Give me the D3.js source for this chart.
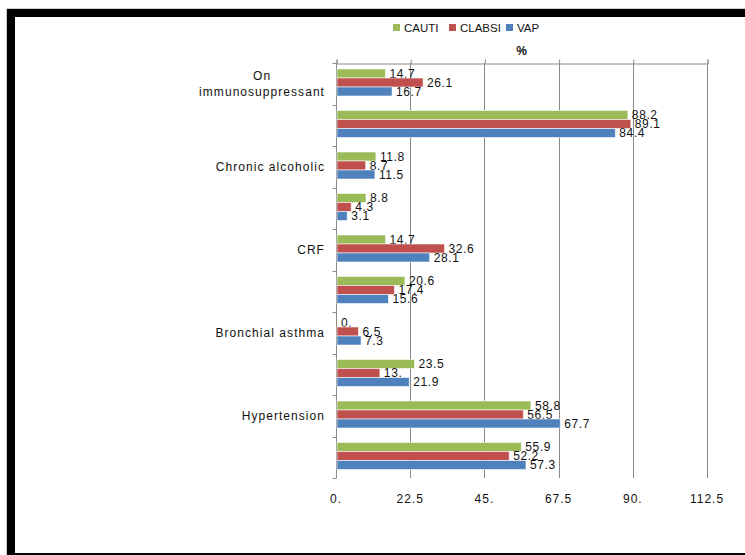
<!DOCTYPE html>
<html>
<head>
<meta charset="utf-8">
<script src="https://cdn.jsdelivr.net/npm/d3@7"></script>
<style>
  html, body { margin: 0; padding: 0; background: #fff; }
  svg { display: block; }
  text { font-family: "Liberation Sans", Arial, sans-serif; fill: #111; }
</style>
</head>
<body>
<script>
// Rows from top to bottom; only every other row carries a drawn label
const categories = [
  "On\nimmunosuppressant", "", "Chronic alcoholic", "", "CRF",
  "", "Bronchial asthma", "", "Hypertension", ""
];
const seriesNames = ["CAUTI", "CLABSI", "VAP"];
const seriesColors = ["#9BBB59", "#C0504D", "#4F81BD"];
const cauti  = [14.7, 88.2, 11.8, 8.8, 14.7, 20.6, 0, 23.5, 58.8, 55.9];
const clabsi = [26.1, 89.1, 8.7, 4.3, 32.6, 17.4, 6.5, 13, 56.5, 52.2];
const vap    = [16.7, 84.4, 11.5, 3.1, 28.1, 15.6, 7.3, 21.9, 67.7, 57.3];
const tickValues = [0, 22.5, 45, 67.5, 90, 112.5];
const axisTitle = "%";

const seriesValues = [cauti, clabsi, vap];
const fmt = v => Number.isInteger(v) ? v + "." : String(v);

const W = 745, H = 555;
const svg = d3.select("body").append("svg").attr("width", W).attr("height", H);

// Frame
svg.append("rect").attr("x", 0).attr("y", 0).attr("width", W).attr("height", H).attr("fill", "#fff");
svg.append("line").attr("x1", 6).attr("x2", W).attr("y1", 8.5).attr("y2", 8.5).attr("stroke", "#ccc");
svg.append("line").attr("x1", 6.5).attr("x2", 6.5).attr("y1", 8).attr("y2", H).attr("stroke", "#ccc");
svg.append("rect").attr("x", 7).attr("y", 9).attr("width", W - 7).attr("height", 8).attr("fill", "#000");
svg.append("rect").attr("x", 7).attr("y", 9).attr("width", 8).attr("height", H - 9).attr("fill", "#000");
svg.append("rect").attr("x", 7).attr("y", 553).attr("width", W - 7).attr("height", 2).attr("fill", "#000");

const plot = { left: 336, right: 707, top: 63, bottom: 478 };

const x = d3.scaleLinear().domain([0, 112.5]).range([plot.left, plot.right]);
const y = d3.scaleBand().domain(d3.range(categories.length)).range([plot.top, plot.bottom]);
const ySub = d3.scaleBand().domain(seriesNames).range([6, 33]);

// Vertical gridlines
svg.append("g").selectAll("line").data(tickValues.slice(1)).join("line")
  .attr("x1", d => Math.round(x(d)) + 0.5).attr("x2", d => Math.round(x(d)) + 0.5)
  .attr("y1", plot.top).attr("y2", plot.bottom)
  .attr("stroke", "#8a8a8a").attr("stroke-width", 1);

// Top value axis (ticks only, labels drawn at the bottom)
const topAxis = svg.append("g").attr("transform", `translate(0.5,${plot.top + 0.5})`)
  .call(d3.axisTop(x).tickValues(tickValues).tickSize(4).tickFormat(""));
topAxis.select(".domain").attr("stroke", "#8a8a8a");
topAxis.selectAll(".tick line").attr("stroke", "#8a8a8a");

// Bottom tick labels
svg.append("g").selectAll("text").data(tickValues).join("text")
  .attr("x", d => x(d)).attr("y", 503)
  .attr("text-anchor", "middle")
  .attr("font-size", 12).attr("letter-spacing", 1)
  .text(fmt);

// Axis title
svg.append("text").attr("x", (plot.left + plot.right) / 2).attr("y", 55)
  .attr("text-anchor", "middle").attr("font-size", 12).attr("font-weight", "bold")
  .text(axisTitle);

// Category axis
const leftAxis = svg.append("g").attr("transform", `translate(${plot.left + 0.5},0)`);
leftAxis.append("line").attr("y1", plot.top).attr("y2", plot.bottom).attr("stroke", "#8a8a8a");
leftAxis.selectAll("line.t").data(d3.range(categories.length + 1)).join("line").attr("class", "t")
  .attr("x1", -4).attr("x2", 0)
  .attr("y1", d => Math.round(plot.top + d * y.step()) + 0.5)
  .attr("y2", d => Math.round(plot.top + d * y.step()) + 0.5)
  .attr("stroke", "#8a8a8a");

// Category labels
categories.forEach((c, i) => {
  if (!c) return;
  const lines = c.split("\n");
  const cy = y(i) + y.bandwidth() / 2;
  const lh = 16.7;
  const g = svg.append("g");
  const t = g.append("text")
    .attr("font-size", 12).attr("letter-spacing", 1.05)
    .attr("text-anchor", "middle");
  lines.forEach((ln, k) => {
    t.append("tspan").attr("x", 0)
      .attr("y", cy + 4.3 + (k - (lines.length - 1) / 2) * lh)
      .text(ln);
  });
  const bb = t.node().getBBox();
  t.attr("transform", `translate(${325 - bb.width / 2},0)`);
});

// Bars
seriesNames.forEach((s, si) => {
  const vals = seriesValues[si];
  const g = svg.append("g");
  g.selectAll("rect").data(vals).join("rect")
    .attr("x", x(0) + 1)
    .attr("y", (d, i) => y(i) + ySub(s))
    .attr("width", d => Math.max(0, x(d) - x(0)))
    .attr("height", ySub.bandwidth())
    .attr("fill", seriesColors[si])
    .attr("stroke", "rgba(255,255,255,0.7)").attr("stroke-width", 0.8);
  g.selectAll("text").data(vals).join("text")
    .attr("x", d => x(d) + 5)
    .attr("y", (d, i) => y(i) + ySub(s) + ySub.bandwidth() / 2 + 4.3)
    .attr("font-size", 12).attr("letter-spacing", 0.6)
    .text(fmt);
});

// Legend
const legend = svg.append("g");
const legendX = [393, 449, 506];
seriesNames.forEach((s, i) => {
  legend.append("rect").attr("x", legendX[i]).attr("y", 24).attr("width", 7).attr("height", 7)
    .attr("fill", seriesColors[i]);
  legend.append("text").attr("x", legendX[i] + 11).attr("y", 32)
    .attr("font-size", 11.5).text(s);
});
</script>
</body>
</html>
